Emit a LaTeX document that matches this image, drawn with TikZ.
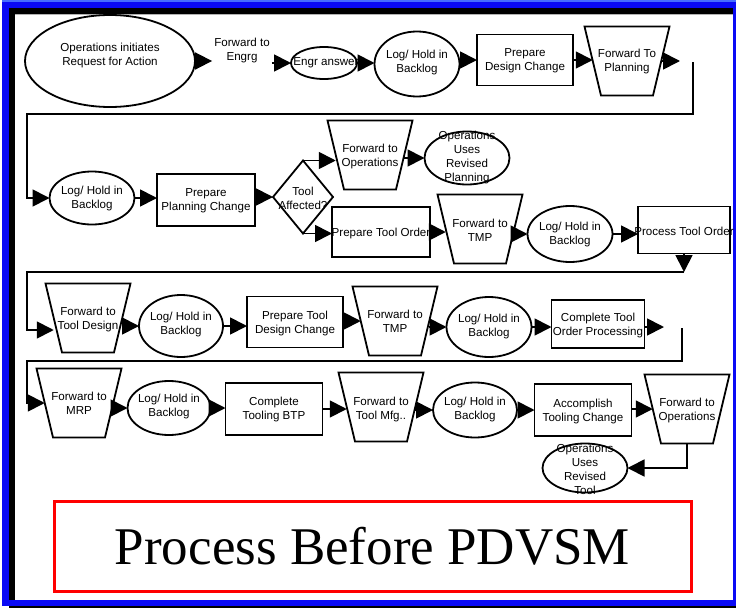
\documentclass[tikz,border=0pt]{standalone}
\usepackage{fontspec}
\setmainfont{Liberation Sans}
\newfontfamily\titlefont{Liberation Serif}
\usetikzlibrary{shapes.geometric,arrows.meta}

\definecolor{frameblue}{RGB}{10,10,245}
\definecolor{frametop}{RGB}{70,110,255}
\definecolor{titlered}{RGB}{255,0,0}

\newcommand\lblfont{\fontsize{11.6}{14}\selectfont}

% funnel step: an invisible box whose side anchors sit on the slanted
% edges at mid height, plus the trapezoid outline (85 wide on top, 52 below)
\newcommand\funnelat[2]{%
  \node[funnelbox] (#1) at (#2) {};
  \draw[outline] ([xshift=-8.25pt]#1.north west) -- ([xshift=8.25pt]#1.north east)
    -- ([xshift=-8.25pt]#1.south east) -- ([xshift=8.25pt]#1.south west) -- cycle;
}

\begin{document}
\begin{tikzpicture}[x=1pt,y=-1pt,
  outline/.style={draw, line width=1.8pt},
  base/.style={outline, inner sep=0pt, outer sep=0pt},
  oval/.style={base, ellipse},
  box/.style={base, rectangle},
  funnelbox/.style={rectangle, inner sep=0pt, outer sep=0pt, minimum width=68.5pt, minimum height=69pt},
  decide/.style={base, diamond},
  txt/.style={align=center, font=\lblfont, inner sep=1pt},
  flow/.style={line width=1.8pt, -{Triangle[length=17pt,width=17pt]}},
]
\useasboundingbox (0,0) rectangle (736,608);

% slide frame
\fill[white] (0,0) rectangle (736,608);
\fill[frameblue] (2,0) rectangle (736,606);
\fill[frametop] (2,0) rectangle (736,2);
\fill[black] (9,8) rectangle (733,600);
\fill[white] (15,14) rectangle (733,600);
\draw[gray!60, line width=0.8pt] (15,14.6) -- (733,14.6);
\fill[black] (9,606) rectangle (736,608);

% ---------- row 1 ----------
\node[oval, minimum width=170pt, minimum height=92pt] (req) at (110,61) {};
\node[txt] (reqt) at (110,55) {Operations initiates\\Request for Action};
\node[txt, inner sep=2pt] (fwd) at (242,50) {Forward to\\Engrg};
\node[oval, minimum width=66pt, minimum height=32pt] (engr) at (324,63) {};
\node[txt] (engrt) at (326,63) {Engr answer};
\node[oval, minimum width=85pt, minimum height=65pt] (log1) at (417,64) {};
\node[txt] (log1t) at (417,62) {Log/ Hold in\\Backlog};
\node[box, minimum width=96pt, minimum height=51pt] (dsg) at (525,60) {};
\node[txt] (dsgt) at (525,61) {Prepare\\Design Change};
\funnelat{plan}{627,61}
\node[txt] (plant) at (627,61) {Forward To\\Planning};
\coordinate (e1) at (680,62);
\coordinate (w1a) at (693,62);
\coordinate (w1b) at (693,114);
\coordinate (w1c) at (27,114);

% ---------- row 2 ----------
\node[oval, minimum width=85pt, minimum height=53pt] (log2) at (92,198) {};
\node[txt] (log2t) at (92,198) {Log/ Hold in\\Backlog};
\node[box, minimum width=98pt, minimum height=52pt] (pln) at (206,200) {};
\node[txt] (plnt) at (206,201) {Prepare\\Planning Change};
\node[decide, minimum width=60pt, minimum height=73pt] (tool) at (303,197) {};
\node[txt] (toolt) at (303,198) {Tool\\Affected?};
\funnelat{ops1}{370,155}
\node[txt] (ops1t) at (370,156) {Forward to\\Operations};
\node[oval, minimum width=85pt, minimum height=53pt] (use1) at (467,158) {};
\node[txt] (use1t) at (467,157) {Operations\\Uses\\Revised\\Planning};
\node[box, minimum width=98pt, minimum height=50pt] (ord) at (381,232) {};
\node[txt] (ordt) at (381,233) {Prepare Tool Order};
\funnelat{tmp1}{480,229}
\node[txt] (tmp1t) at (480,230) {Forward to\\TMP};
\node[oval, minimum width=85pt, minimum height=56pt] (log3) at (570,234) {};
\node[txt] (log3t) at (570,234) {Log/ Hold in\\Backlog};
\node[box, minimum width=92pt, minimum height=47pt] (proc) at (684,230) {};
\node[txt] (proct) at (684,231) {Process Tool Order};
\coordinate (e2) at (684,272);
\coordinate (w2) at (27,272);
\coordinate (w2b) at (27,330);

% ---------- row 3 ----------
\funnelat{tdes}{88,318}
\node[txt] (tdest) at (88,319) {Forward to\\Tool Design};
\node[oval, minimum width=84pt, minimum height=62pt] (log4) at (181,326) {};
\node[txt] (log4t) at (181,324) {Log/ Hold in\\Backlog};
\node[box, minimum width=96pt, minimum height=51pt] (tdc) at (295,322) {};
\node[txt] (tdct) at (295,323) {Prepare Tool\\Design Change};
\funnelat{tmp2}{395,321}
\node[txt] (tmp2t) at (395,321) {Forward to\\TMP};
\node[oval, minimum width=85pt, minimum height=60pt] (log5) at (489,327) {};
\node[txt] (log5t) at (489,326) {Log/ Hold in\\Backlog};
\node[box, minimum width=93pt, minimum height=48pt] (cto) at (598,324) {};
\node[txt] (ctot) at (598,325) {Complete Tool\\Order Processing};
\coordinate (e3) at (664,327);
\coordinate (w3a) at (682,328);
\coordinate (w3b) at (682,361);
\coordinate (w3c) at (27,361);

% ---------- row 4 ----------
\funnelat{mrp}{79,403}
\node[txt] (mrpt) at (79,403) {Forward to\\MRP};
\node[oval, minimum width=83pt, minimum height=54pt] (log6) at (169,408) {};
\node[txt] (log6t) at (169,406) {Log/ Hold in\\Backlog};
\node[box, minimum width=97pt, minimum height=52pt] (btp) at (274,409) {};
\node[txt] (btpt) at (274,409) {Complete\\Tooling BTP};
\funnelat{mfg}{381,407}
\node[txt] (mfgt) at (381,409) {Forward to\\Tool Mfg..};
\node[oval, minimum width=84pt, minimum height=55pt] (log7) at (475,410) {};
\node[txt] (log7t) at (475,409) {Log/ Hold in\\Backlog};
\node[box, minimum width=97pt, minimum height=52pt] (acc) at (583,410) {};
\node[txt] (acct) at (583,411) {Accomplish\\Tooling Change};
\funnelat{ops2}{687,409}
\node[txt] (ops2t) at (687,410) {Forward to\\Operations};
\node[oval, minimum width=85pt, minimum height=49pt] (use2) at (585,468) {};
\node[txt] (use2t) at (585,469) {Operations\\Uses\\Revised\\Tool};

% ---------- connectors ----------
\draw[flow] (req.east) -- (req.east -| fwd.west);
\draw[flow] (fwd.east |- engr.west) -- (engr.west);
\draw[flow] (engr.east) -- (engr.east -| log1.west);
\draw[flow] (log1.east |- dsg.west) -- (dsg.west);
\draw[flow] (dsg.east) -- (dsg.east -| plan.west);
\draw[flow] (plan.east) -- (plan.east -| e1);
\draw[flow] (w1a) -- (w1b) -- (w1c) |- (log2.west);

\draw[flow] (log2.east) -- (log2.east -| pln.west);
\draw[flow] (pln.east |- tool.west) -- (tool.west);
\draw[flow] (tool.north) -- (tool.north -| ops1.west);
\draw[flow] (tool.south) -- (tool.south -| ord.west);
\draw[flow] (ops1.east |- use1.west) -- (use1.west);
\draw[flow] (ord.east) -- (ord.east -| tmp1.west);
\draw[flow] (tmp1.east |- log3.west) -- (log3.west);
\draw[flow] (log3.east) -- (log3.east -| proc.west);
\draw[flow] (proc.south) -- (e2);
\draw[flow] (e2) -- (w2) -- (w2b) -- (tdes.west |- w2b);

\draw[flow] (tdes.east |- log4.west) -- (log4.west);
\draw[flow] (log4.east) -- (log4.east -| tdc.west);
\draw[flow] (tdc.east |- tmp2.west) -- (tmp2.west);
\draw[flow] (tmp2.east |- log5.west) -- (log5.west);
\draw[flow] (log5.east) -- (log5.east -| cto.west);
\draw[flow] (cto.east |- e3) -- (e3);
\draw[flow] (w3a) -- (w3b) -- (w3c) |- (mrp.west);

\draw[flow] (mrp.east |- log6.west) -- (log6.west);
\draw[flow] (log6.east) -- (log6.east -| btp.west);
\draw[flow] (btp.east) -- (btp.east -| mfg.west);
\draw[flow] (mfg.east |- log7.west) -- (log7.west);
\draw[flow] (log7.east) -- (log7.east -| acc.west);
\draw[flow] (acc.east |- ops2.west) -- (ops2.west);
\draw[flow] (ops2.south) -- (ops2.south |- use2.east) -- (use2.east);

% ---------- caption ----------
\node[draw=titlered, line width=3pt, minimum width=637pt, minimum height=90pt,
  inner sep=0pt, font=\titlefont\fontsize{53}{60}\selectfont] (title) at (372.5,546)
  {Process Before PDVSM};
\end{tikzpicture}
\end{document}
